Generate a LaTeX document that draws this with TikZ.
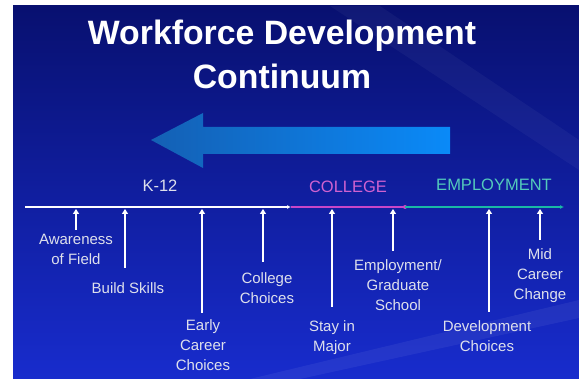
\documentclass[tikz,border=0pt]{standalone}
\usepackage{fontspec}
\setmainfont{Liberation Sans}
\usetikzlibrary{arrows.meta}

\definecolor{navytop}{RGB}{8,16,112}
\definecolor{navybot}{RGB}{24,44,205}
\definecolor{arrowdark}{RGB}{20,96,180}
\definecolor{arrowlight}{RGB}{10,138,248}
\definecolor{collegepink}{RGB}{200,70,200}
\definecolor{jobteal}{RGB}{25,185,165}
\definecolor{lbltext}{RGB}{222,224,236}

\tikzset{
  lbl/.style={text=lbltext, align=center, inner sep=0pt, anchor=north,
    font=\fontsize{15}{20}\selectfont},
  stage/.style={font=\fontsize{16.5}{18}\selectfont},
  tick/.style={white, line width=1.7pt, -{Triangle[length=5pt,width=6pt]}},
}

\begin{document}
\begin{tikzpicture}[x=1pt,y=-1pt]
  \useasboundingbox (0,0) rectangle (579,379);
  \fill[white] (0,0) rectangle (579,379);
  \shade[top color=navytop, bottom color=navybot] (13,6) rectangle (579,379);
  % faint light streaks
  \fill[white, opacity=0.06] (250,379) -- (579,300) -- (579,318) -- (300,379) -- cycle;
  \fill[white, opacity=0.04] (330,6) -- (380,6) -- (579,140) -- (579,170) -- cycle;

  %% title
  \node[text=white, align=center, font=\bfseries\fontsize{33.8}{44}\selectfont] (title) at (282,54) {Workforce Development\\Continuum};

  %% big arrow pointing back
  \shade[left color=arrowdark, right color=arrowlight]
    (450,127) -- (203,127) -- (203,113) -- (151,140) -- (203,168) -- (203,154) -- (450,154) -- cycle;

  %% timeline
  \coordinate (k0) at (25,207);
  \coordinate (k1) at (291,207);
  \coordinate (c1) at (405,207);
  \coordinate (e1) at (564,207);
  \draw[white, line width=1.7pt, -{Latex[length=4pt,width=4pt]}] (k0) -- (k1);
  \draw[collegepink, line width=1.7pt] (k1) -- (c1);
  \fill[collegepink] (c1) circle (2pt);
  \draw[jobteal, line width=1.7pt, -{Latex[length=4pt,width=4pt]}] (c1) -- (e1);

  \node[stage, text=lbltext] (k12) at (160,186) {K-12};
  \node[stage, text=collegepink!85!white] (college) at (348,187) {COLLEGE};
  \node[stage, text=jobteal!75!white] (employ) at (494,185) {EMPLOYMENT};

  %% points on the line
  \coordinate (p1) at (76,209);
  \coordinate (p2) at (125,209);
  \coordinate (p3) at (202,209);
  \coordinate (p4) at (263,209);
  \coordinate (p5) at (332,209);
  \coordinate (p6) at (393,209);
  \coordinate (p7) at (489,209);
  \coordinate (p8) at (540,209);

  %% labels
  \node[lbl] (aware) at (76,234) {Awareness\\of Field};
  \node[lbl] (skills) at (128,282) {Build Skills};
  \node[lbl] (early) at (203,319) {Early\\Career\\Choices};
  \node[lbl] (collchoice) at (267,272) {College\\Choices};
  \node[lbl] (stay) at (332,320) {Stay in\\Major};
  \node[lbl] (gradschool) at (398,259) {Employment/\\Graduate\\School};
  \node[lbl] (devchoice) at (487,320) {Development\\Choices};
  \node[lbl] (midcareer) at (540,248) {Mid\\Career\\Change};

  %% arrows up to the line
  \draw[tick, shorten <=4pt] (aware.north -| p1) -- (p1);
  \draw[tick, shorten <=14pt] (skills.north -| p2) -- (p2);
  \draw[tick, shorten <=6pt] (early.north -| p3) -- (p3);
  \draw[tick, shorten <=10pt] (collchoice.north -| p4) -- (p4);
  \draw[tick, shorten <=13pt] (stay.north -| p5) -- (p5);
  \draw[tick, shorten <=8pt] (gradschool.north -| p6) -- (p6);
  \draw[tick, shorten <=8pt] (devchoice.north -| p7) -- (p7);
  \draw[tick, shorten <=8pt] (midcareer.north -| p8) -- (p8);
\end{tikzpicture}
\end{document}
